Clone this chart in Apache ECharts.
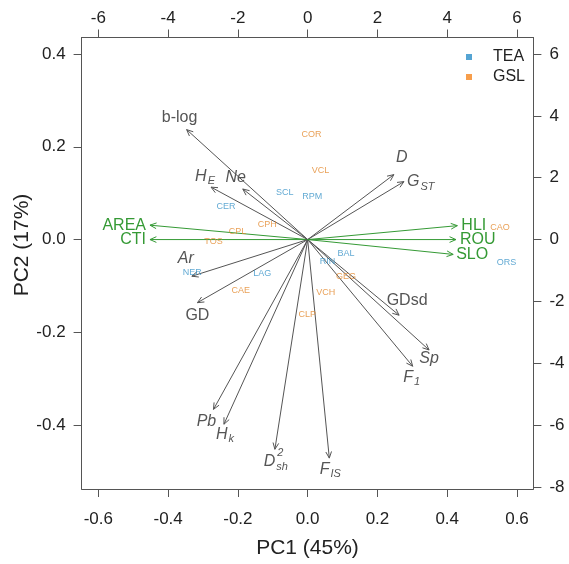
<!DOCTYPE html>
<html><head><meta charset="utf-8">
<script src="https://cdn.jsdelivr.net/npm/echarts@6/dist/echarts.min.js"></script>
<style>html,body{margin:0;padding:0;background:#fff}#c{width:569px;height:564px}</style>
</head><body><div id="c"></div>
<script>
// ---- Data: variable loadings (PC1, PC2) ----
const varNames = ['b-log','HE','Ne','AREA','CTI','Ar','GD','Pb','Hk','Dsh2','FIS','GDsd','Sp','F1','D','GST','HLI','ROU','SLO'];
const varPC1   = [-0.347,-0.277,-0.186,-0.452,-0.452,-0.332,-0.316,-0.270,-0.240,-0.094,0.062,0.262,0.348,0.301,0.247,0.276,0.429,0.425,0.417];
const varPC2   = [0.237,0.113,0.109,0.031,0.000,-0.079,-0.136,-0.366,-0.398,-0.452,-0.471,-0.163,-0.238,-0.273,0.140,0.125,0.030,0.000,-0.032];
const envVars  = ['AREA','CTI','HLI','ROU','SLO'];
// ---- Data: population scores (PC1, PC2) ----
const teaNames = ['SCL','RPM','CER','NER','LAG','BAL','RIN','ORS'];
const teaPC1   = [-0.66,0.13,-2.34,-3.31,-1.30,1.10,0.57,5.70];
const teaPC2   = [1.51,1.39,1.07,-1.07,-1.11,-0.45,-0.70,-0.73];
const gslNames = ['COR','VCL','CPH','CPL','TOS','CAE','CLP','VCH','GEG','CAO'];
const gslPC1   = [0.11,0.37,-1.16,-2.01,-2.70,-1.92,-0.01,0.52,1.10,5.51];
const gslPC2   = [3.41,2.23,0.48,0.25,-0.07,-1.65,-2.42,-1.70,-1.20,0.40];
// ---- Tick labels ----
const bottomTicks = [-0.6,-0.4,-0.2,0,0.2,0.4,0.6];
const leftTicks   = [-0.4,-0.2,0,0.2,0.4];
const topTicks    = [-6,-4,-2,0,2,4,6];
const rightTicks  = [-8,-6,-4,-2,0,2,4,6];

// ---- Label text (with sub/superscripts) ----
const labelText = {
  'b-log':[['b-log','n']], 'HE':[['H','i'],['E','sub']], 'Ne':[['Ne','i']],
  'AREA':[['AREA','n']], 'CTI':[['CTI','n']], 'Ar':[['Ar','i']], 'GD':[['GD','n']],
  'Pb':[['Pb','i']], 'Hk':[['H','i'],['k','sub']], 'Dsh2':[['D','i'],['2|sh','supsub']],
  'FIS':[['F','i'],['IS','sub']], 'GDsd':[['GDsd','n']], 'Sp':[['Sp','i']],
  'F1':[['F','i'],['1','sub']], 'D':[['D','i']], 'GST':[['G','i'],['ST','sub']],
  'HLI':[['HLI','n']], 'ROU':[['ROU','n']], 'SLO':[['SLO','n']]
};
// ---- Label layout style (pixel offsets from arrow tip) ----
const labelLayout = {
  'b-log':{dx:-7,dy:-12}, 'HE':{dx:-6,dy:-11}, 'Ne':{dx:-7,dy:-11},
  'AREA':{dx:-4,dy:0,align:'right'}, 'CTI':{dx:-4,dy:0,align:'right'},
  'Ar':{dx:-6,dy:-18}, 'GD':{dx:0,dy:13}, 'Pb':{dx:-7,dy:12}, 'Hk':{dx:1,dy:10},
  'Dsh2':{dx:1,dy:12}, 'FIS':{dx:1,dy:11}, 'GDsd':{dx:8,dy:-15}, 'Sp':{dx:0,dy:9},
  'F1':{dx:-1,dy:11}, 'D':{dx:8,dy:-17}, 'GST':{dx:3,dy:0,align:'left'},
  'HLI':{dx:4,dy:0,align:'left'}, 'ROU':{dx:4,dy:0,align:'left'}, 'SLO':{dx:3,dy:0,align:'left'}
};

const FONT = '"Liberation Sans", Arial, Helvetica, sans-serif';
const GRAY = '#555555', GREEN = '#359a35', TXT = '#222222';
const MAIN_SIZE = 16, SUB_SIZE = 11;
const measureCtx = document.createElement('canvas').getContext('2d');
function tw(text, size, italic){
  measureCtx.font = (italic ? 'italic ' : '') + size + 'px ' + FONT;
  return measureCtx.measureText(text).width;
}

function renderArrow(params, api){
  const i = params.dataIndex;
  const name = varNames[i];
  const isEnv = envVars.indexOf(name) >= 0;
  const col = isEnv ? GREEN : GRAY;
  const o = api.coord([0,0]);
  const p = api.coord([api.value(0), api.value(1)]);
  const ang = Math.atan2(p[1]-o[1], p[0]-o[0]);
  const L = 7, a = Math.PI/7.5;
  const h1 = [p[0]-L*Math.cos(ang-a), p[1]-L*Math.sin(ang-a)];
  const h2 = [p[0]-L*Math.cos(ang+a), p[1]-L*Math.sin(ang+a)];
  const children = [
    {type:'line', shape:{x1:o[0],y1:o[1],x2:p[0],y2:p[1]}, style:{stroke:col, lineWidth:1}},
    {type:'polyline', shape:{points:[h1,p,h2]}, style:{stroke:col, lineWidth:1, fill:null}}
  ];
  // label
  const parts = labelText[name];
  const lay = labelLayout[name];
  const widths = parts.map(pt => {
    if (pt[1] === 'sub') return tw(pt[0], SUB_SIZE, true);
    if (pt[1] === 'supsub') { const s = pt[0].split('|'); return Math.max(tw(s[0],SUB_SIZE,true), tw(s[1],SUB_SIZE,true)); }
    return tw(pt[0], MAIN_SIZE, pt[1] === 'i');
  });
  const total = widths.reduce((s,w)=>s+w, 0) + (parts.length > 1 ? 1 : 0);
  const ax = p[0] + lay.dx, ay = p[1] + lay.dy;
  let x = lay.align === 'right' ? ax - total : (lay.align === 'left' ? ax : ax - total/2);
  const tcol = isEnv ? GREEN : GRAY;
  parts.forEach((pt, k) => {
    const base = {fill:tcol, fontFamily:FONT, align:'left', verticalAlign:'middle'};
    if (pt[1] === 'sub') {
      children.push({type:'text', x:x+1, y:ay+5, style:Object.assign({text:pt[0], fontSize:SUB_SIZE, fontStyle:'italic'}, base)});
    } else if (pt[1] === 'supsub') {
      const s = pt[0].split('|');
      children.push({type:'text', x:x+2, y:ay-8, style:Object.assign({text:s[0], fontSize:SUB_SIZE, fontStyle:'italic'}, base)});
      children.push({type:'text', x:x+1, y:ay+6, style:Object.assign({text:s[1], fontSize:SUB_SIZE, fontStyle:'italic'}, base)});
    } else {
      children.push({type:'text', x:x, y:ay, style:Object.assign({text:pt[0], fontSize:MAIN_SIZE, fontStyle: pt[1]==='i' ? 'italic' : 'normal'}, base)});
    }
    x += widths[k];
  });
  return {type:'group', children};
}

const axisCommon = {
  type:'value', splitLine:{show:false},
  axisLine:{show:true, onZero:false, lineStyle:{color:'#555', width:1}},
  axisTick:{show:true, length:8, lineStyle:{color:'#555', width:1}}
};
function mk(extra){ return echarts.util.merge(echarts.util.clone(axisCommon), extra, true); }

const chart = echarts.init(document.getElementById('c'), null, {renderer:'canvas'});
chart.setOption({
  backgroundColor:'#ffffff',
  animation:false,
  textStyle:{fontFamily:FONT},
  grid:{left:81.6, right:35.6, top:37.5, bottom:74, containLabel:false},
  legend:{
    data:['TEA','GSL'], orient:'vertical', left:461, top:44, icon:'rect',
    itemWidth:6, itemHeight:6, itemGap:4,
    textStyle:{fontSize:16, color:TXT, padding:[0,0,0,16], lineHeight:16, fontFamily:FONT}
  },
  xAxis:[
    mk({position:'bottom', min:-0.648, max:0.647,
        axisTick:{customValues:bottomTicks},
        axisLabel:{customValues:bottomTicks, formatter:v=>Number(v).toFixed(1), fontSize:17, color:TXT, margin:22, fontFamily:FONT},
        name:'PC1 (45%)', nameLocation:'middle', nameGap:49, nameTextStyle:{fontSize:21, color:TXT, fontFamily:FONT}}),
    mk({position:'top', min:-6.48, max:6.47,
        axisTick:{customValues:topTicks},
        axisLabel:{customValues:topTicks, formatter:v=>String(Math.round(v)), fontSize:17, color:TXT, margin:11, fontFamily:FONT}})
  ],
  yAxis:[
    mk({position:'left', min:-0.5376, max:0.4355,
        axisTick:{customValues:leftTicks},
        axisLabel:{customValues:leftTicks, formatter:v=>Number(v).toFixed(1), fontSize:17, color:TXT, margin:16, fontFamily:FONT}}),
    mk({position:'right', min:-8.064, max:6.533,
        axisTick:{customValues:rightTicks},
        axisLabel:{customValues:rightTicks, formatter:v=>String(Math.round(v)), fontSize:17, color:TXT, margin:16, fontFamily:FONT}})
  ],
  graphic:[
    {type:'text', x:22, y:245, rotation:Math.PI/2,
     style:{text:'PC2 (17%)', fontSize:21, fill:TXT, fontFamily:FONT, align:'center', verticalAlign:'middle'}}
  ],
  series:[
    {type:'custom', name:'loadings', xAxisIndex:0, yAxisIndex:0, silent:true, clip:false,
     renderItem:renderArrow, encode:{x:0, y:1},
     data:varNames.map((n,i)=>[varPC1[i], varPC2[i]])},
    {type:'scatter', name:'TEA', xAxisIndex:1, yAxisIndex:1, symbolSize:0, silent:true,
     itemStyle:{color:'#2b8dc8'},
     label:{show:true, position:'inside', formatter:'{b}', fontSize:9, color:'#3a93c8', fontFamily:FONT},
     data:teaNames.map((n,i)=>({name:n, value:[teaPC1[i], teaPC2[i]]}))},
    {type:'scatter', name:'GSL', xAxisIndex:1, yAxisIndex:1, symbolSize:0, silent:true,
     itemStyle:{color:'#f5861f'},
     label:{show:true, position:'inside', formatter:'{b}', fontSize:9, color:'#e3892e', fontFamily:FONT},
     data:gslNames.map((n,i)=>({name:n, value:[gslPC1[i], gslPC2[i]]}))}
  ]
});
</script></body></html>
